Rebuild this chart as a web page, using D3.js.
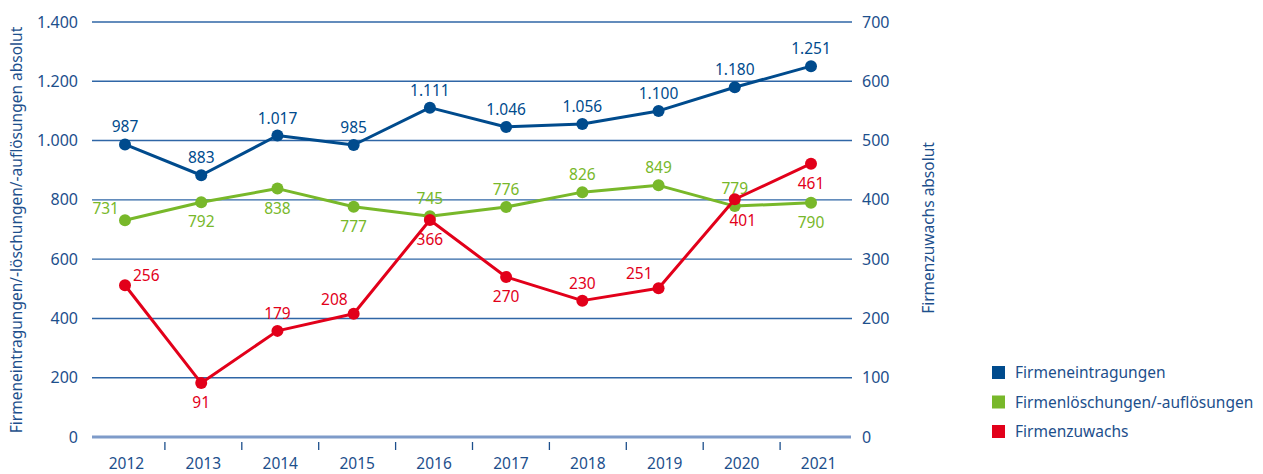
<!DOCTYPE html>
<html>
<head>
<meta charset="utf-8">
<script src="https://cdn.jsdelivr.net/npm/d3@7"></script>
<style>
  html, body { margin: 0; padding: 0; background: #ffffff; }
  svg { display: block; font-family: "Noto Sans", sans-serif; }
</style>
</head>
<body>
<svg id="chart" width="1263" height="474"></svg>
<script>
// ---- data ----
const years = ["2012","2013","2014","2015","2016","2017","2018","2019","2020","2021"];
const eintragungen = [987, 883, 1017, 985, 1111, 1046, 1056, 1100, 1180, 1251];
const loeschungen = [731, 792, 838, 777, 745, 776, 826, 849, 779, 790];
const zuwachs = [256, 91, 179, 208, 366, 270, 230, 251, 401, 461];
const leftTicks = [0, 200, 400, 600, 800, 1000, 1200, 1400];
const rightTicks = [0, 100, 200, 300, 400, 500, 600, 700];
const seriesNames = ["Firmeneintragungen", "Firmenlöschungen/-auflösungen", "Firmenzuwachs"];
const leftTitle = "Firmeneintragungen/-löschungen/-auflösungen absolut";
const rightTitle = "Firmenzuwachs absolut";

// label placement (style)
const bluePlace = ["top","top","top","top","top","top","top","top","top","top"];
const greenPlace = ["left","bottom","bottom","bottom","top","top","top","top","top","bottom"];
const redPlace = ["right","bottom","top","topleft","bottom","bottom","top","topleft","bottomright","bottom"];

const colBlue = "#004b8d", colGreen = "#78b82a", colRed = "#e2001a";
const axisText = "#1d4f8c";

const svg = d3.select("#chart");
const x0 = 88, x1 = 857, yTop = 22, yBot = 437;
const gridX0 = 92, gridX1 = 852;

const x = d3.scaleBand().domain(years).range([x0, x1]);
const xp = d3.scalePoint().domain(years).range([125, 811]);
const yL = d3.scaleLinear().domain([0, 1400]).range([yBot, yTop]);
const yR = d3.scaleLinear().domain([0, 700]).range([yBot, yTop]);
const fmt = d3.formatLocale({decimal: ",", thousands: ".", grouping: [3], currency: ["", "€"]}).format(",d");

// gridlines
svg.append("g").selectAll("line").data(leftTicks.filter(d => d > 0)).join("line")
  .attr("x1", gridX0).attr("x2", gridX1)
  .attr("y1", d => yL(d)).attr("y2", d => yL(d))
  .attr("stroke", "#2f66a6").attr("stroke-width", 1.4);

// left axis
const gL = svg.append("g").attr("transform", `translate(${gridX0},0)`)
  .call(d3.axisLeft(yL).tickValues(leftTicks).tickFormat(fmt).tickSize(0).tickPadding(14));
gL.select(".domain").remove();
gL.selectAll("text").attr("fill", axisText).style("font-size", "16px").style("font-family", "Noto Sans");

// right axis
const gR = svg.append("g").attr("transform", `translate(${gridX1},0)`)
  .call(d3.axisRight(yR).tickValues(rightTicks).tickFormat(fmt).tickSize(0).tickPadding(10));
gR.select(".domain").remove();
gR.selectAll("text").attr("fill", axisText).style("font-size", "16px").style("font-family", "Noto Sans");

// bottom axis
svg.append("line").attr("x1", gridX0).attr("x2", gridX1 - 1)
  .attr("y1", yBot).attr("y2", yBot)
  .attr("stroke", "#7e9bc9").attr("stroke-width", 3);
const gX = svg.append("g").attr("transform", `translate(0,${yBot})`)
  .call(d3.axisBottom(x).tickSize(0).tickPadding(21));
gX.select(".domain").remove();
gX.selectAll("text").attr("fill", axisText).style("font-size", "15.5px").style("font-family", "Noto Sans");
// separators between categories
svg.append("g").selectAll("line").data(years.slice(1)).join("line")
  .attr("x1", d => x(d)).attr("x2", d => x(d))
  .attr("y1", yBot + 5).attr("y2", yBot + 13)
  .attr("stroke", axisText).attr("stroke-width", 1.3);

// axis titles
svg.append("text").attr("transform", `translate(22,230) rotate(-90)`)
  .attr("text-anchor", "middle").attr("fill", axisText)
  .style("font-size", "15.5px").text(leftTitle);
svg.append("text").attr("transform", `translate(934,228) rotate(-90)`)
  .attr("text-anchor", "middle").attr("fill", axisText)
  .style("font-size", "15.5px").text(rightTitle);

const cx = d => xp(d);

function drawSeries(values, yScale, color, places) {
  const data = years.map((yr, i) => ({yr, v: values[i], p: places[i]}));
  const line = d3.line().x(d => cx(d.yr)).y(d => yScale(d.v));
  svg.append("path").datum(data).attr("d", line)
    .attr("fill", "none").attr("stroke", color).attr("stroke-width", 3).attr("stroke-linejoin", "round");
  svg.append("g").selectAll("circle").data(data).join("circle")
    .attr("cx", d => cx(d.yr)).attr("cy", d => yScale(d.v)).attr("r", 6).attr("fill", color);
  const off = {
    top: [0, -12, "middle"], bottom: [0, 25, "middle"], left: [-6, -6, "end"],
    right: [8, -4, "start"], topleft: [-6, -9, "end"], bottomright: [8, 27, "middle"]
  };
  svg.append("g").selectAll("text").data(data).join("text")
    .attr("x", d => cx(d.yr) + off[d.p][0])
    .attr("y", d => yScale(d.v) + off[d.p][1])
    .attr("text-anchor", d => off[d.p][2])
    .attr("fill", color).style("font-size", "15.5px")
    .text(d => fmt(d.v));
}

drawSeries(eintragungen, yL, colBlue, bluePlace);
drawSeries(loeschungen, yL, colGreen, greenPlace);
drawSeries(zuwachs, yR, colRed, redPlace);

// legend
const legCols = [colBlue, colGreen, colRed];
const leg = svg.append("g").selectAll("g").data(seriesNames).join("g")
  .attr("transform", (d, i) => `translate(992,${366 + i * 29.5})`);
leg.append("rect").attr("width", 13).attr("height", 13).attr("fill", (d, i) => legCols[i]);
leg.append("text").attr("x", 23).attr("y", 12).attr("fill", axisText)
  .style("font-size", "15.5px").text(d => d);
</script>
</body>
</html>
